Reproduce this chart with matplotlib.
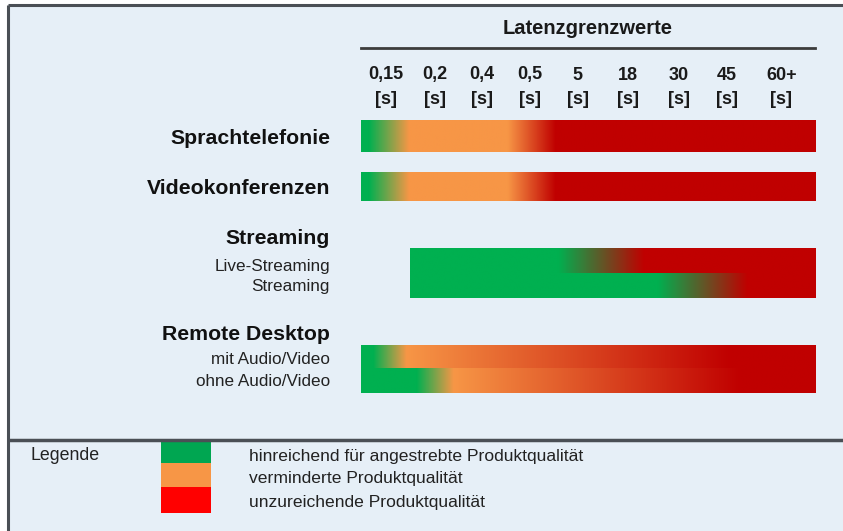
import matplotlib
matplotlib.use("Agg")
import matplotlib.pyplot as plt
from matplotlib.patches import Rectangle
from matplotlib.colors import to_rgb
import numpy as np

# Daten
latenz = ["0,15", "0,2", "0,4", "0,5", "5", "18", "30", "45", "60+"]
gruppen = ["Sprachtelefonie", "Videokonferenzen", "Streaming", "Remote Desktop"]
unterzeilen = ["Live-Streaming", "Streaming", "mit Audio/Video", "ohne Audio/Video"]
legende = ["hinreichend für angestrebte Produktqualität",
           "verminderte Produktqualität",
           "unzureichende Produktqualität"]

# Qualitaetsstufen entlang der Latenzspalten (0 = gruen, 1 = orange, 2 = rot)
sprach_pos = [0, 0.15, 0.95, 2.9, 3.85, 9]
sprach_stufe = [0, 0, 1, 1, 2, 2]
video_pos = [0, 0.15, 0.95, 2.9, 3.85, 9]
video_stufe = [0, 0, 1, 1, 2, 2]
live_pos = [0.97, 3.9, 5.6, 9]
live_stufe = [0, 0, 2, 2]
stream_pos = [0.97, 5.87, 7.65, 9]
stream_stufe = [0, 0, 2, 2]
mit_pos = [0, 0.24, 0.9, 7.3, 9]
mit_stufe = [0, 0, 1, 2, 2]
ohne_pos = [0, 1.1, 1.83, 7.5, 9]
ohne_stufe = [0, 0, 1, 2, 2]

BG = "#e6eff7"
farben = ["#00b050", "#f79646", "#c00000"]
leg_farben = ["#00a651", "#f79646", "#ff0000"]
RAHMEN = "#4a4f55"
TEXT = "#1a1a1a"

plt.rcParams["font.family"] = ["Liberation Sans", "DejaVu Sans"]

fig = plt.figure(figsize=(8.43, 5.31), dpi=100)
fig.patch.set_facecolor("white")

# Hintergrund in Pixelkoordinaten
ax0 = fig.add_axes([0, 0, 1, 1])
ax0.set_xlim(0, 843)
ax0.set_ylim(531, 0)
ax0.axis("off")
ax0.add_patch(Rectangle((8, 5), 843, 531, facecolor=BG, edgecolor="none"))
ax0.plot([8, 8], [5, 531], color=RAHMEN, lw=2.2, solid_capstyle="butt")
ax0.plot([8, 843], [5, 5], color=RAHMEN, lw=2.2, solid_capstyle="butt")
ax0.plot([8, 843], [440, 440], color=RAHMEN, lw=2.5, solid_capstyle="butt")

# Balkenbereich: x in Latenzspalten, y in Pixeln
ax = fig.add_axes([361 / 843, 0, 454 / 843, 1])
ax.set_xlim(0, 9)
ax.set_ylim(531, 0)
ax.axis("off")

rgb = np.array([to_rgb(c) for c in farben])


def verlauf(pos, stufe, y0, y1):
    # Farbverlauf direkt zwischen den Stuetzfarben (RGB)
    xs = np.linspace(pos[0], pos[-1], 800)
    stuetz = rgb[stufe]
    img = np.stack([np.interp(xs, pos, stuetz[:, k]) for k in range(3)], axis=1)
    ax.imshow(img[None, :, :], extent=(pos[0], pos[-1], y1, y0),
              aspect="auto", interpolation="bilinear", zorder=2)


verlauf(sprach_pos, sprach_stufe, 120, 152)
verlauf(video_pos, video_stufe, 172, 201)
verlauf(live_pos, live_stufe, 248, 273)
verlauf(stream_pos, stream_stufe, 273, 298)
verlauf(mit_pos, mit_stufe, 345, 368)
verlauf(ohne_pos, ohne_stufe, 368, 393)
ax.set_xlim(0, 9)
ax.set_ylim(531, 0)

# Kopfzeile
ax.text(4.5, 28, "Latenzgrenzwerte", ha="center", va="center",
        fontsize=14.5, fontweight="bold", color=TEXT)
ax.plot([0, 9], [48, 48], color="#3c3c3c", lw=2, clip_on=False)
kopf_x = [0.5, 1.47, 2.4, 3.35, 4.3, 5.29, 6.3, 7.26, 8.33]
for x, lab in zip(kopf_x, latenz):
    ax.text(x, 75, lab, ha="center", va="center", fontsize=13,
            fontweight="bold", color=TEXT)
    ax.text(x, 99, "[s]", ha="center", va="center", fontsize=13,
            fontweight="bold", color=TEXT)

# Zeilenbeschriftungen
gruppen_y = [139, 189, 238, 335]
for y, lab in zip(gruppen_y, gruppen):
    ax0.text(330, y, lab, ha="right", va="center", fontsize=15.3,
             fontweight="bold", color="#111111")
unter_y = [266, 287, 359, 382]
for y, lab in zip(unter_y, unterzeilen):
    ax0.text(330, y, lab, ha="right", va="center", fontsize=12.3,
             color="#222222")

# Legende
ax0.text(30, 456, "Legende", ha="left", va="center", fontsize=12.8,
         color="#222222")
leg_y = [(441, 463), (463, 487), (487, 513)]
for (y0, y1), c in zip(leg_y, leg_farben):
    ax0.add_patch(Rectangle((161, y0), 50, y1 - y0, facecolor=c, edgecolor="none"))
for (y0, y1), lab in zip(leg_y, legende):
    ax0.text(249, y0 + 15, lab, ha="left", va="center", fontsize=12.6,
             color="#222222")

fig.savefig("out.png", dpi=100, facecolor="white")
